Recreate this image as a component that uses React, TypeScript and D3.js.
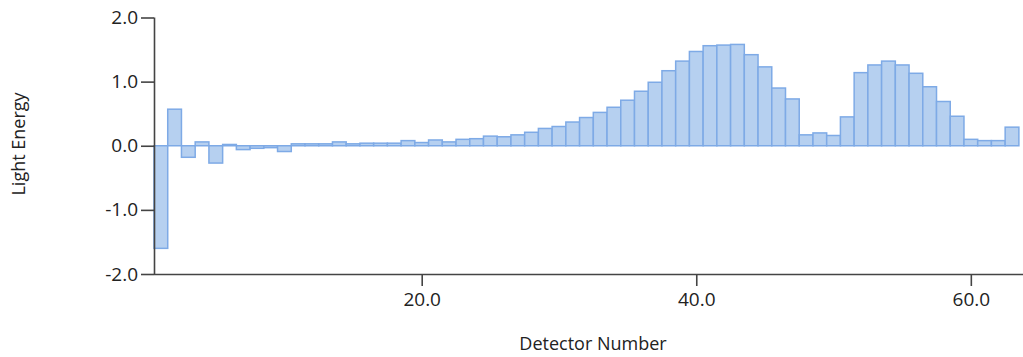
import { useEffect, useRef } from 'react';
import * as d3 from 'd3';

// detector numbers 1..63 and the measured light energy for each
const detectors = d3.range(1, 64);
const energy = [
  -1.6, 0.57, -0.18, 0.06, -0.27, 0.02, -0.06, -0.04, -0.03, -0.09,
  0.03, 0.03, 0.03, 0.06, 0.03, 0.04, 0.04, 0.04, 0.08, 0.05,
  0.09, 0.06, 0.1, 0.11, 0.15, 0.14, 0.17, 0.21, 0.27, 0.3,
  0.37, 0.44, 0.52, 0.6, 0.71, 0.85, 0.99, 1.17, 1.32, 1.47,
  1.56, 1.57, 1.58, 1.42, 1.23, 0.9, 0.73, 0.17, 0.2, 0.16,
  0.45, 1.14, 1.26, 1.32, 1.26, 1.13, 0.92, 0.69, 0.46, 0.1,
  0.08, 0.08, 0.29,
];
const yTicks = [-2, -1, 0, 1, 2];
const xTicks = [20, 40, 60];

const WIDTH = 1023;
const HEIGHT = 357;
const FONT = '"Open Sans", "Noto Sans", sans-serif';

// plain hyphen minus, like the original chart
const fmt = (v: number) => v.toFixed(1);

function drawChart(svgElement: SVGSVGElement) {
  const svg = d3.select(svgElement);
  svg.selectAll('*').remove();

  const left = 154;
  const right = WIDTH;
  const top = 17.5;
  const bottom = 274;

  const x = d3.scaleLinear().domain([0.5, 63.8]).range([left, right]);
  const y = d3.scaleLinear().domain([-2, 2]).range([bottom, top]);
  const step = x(1) - x(0);

  const data = detectors.map((d, i) => ({ d, v: energy[i] }));

  svg
    .append('g')
    .selectAll('rect')
    .data(data)
    .join('rect')
    .attr('x', (p) => x(p.d) - step / 2)
    .attr('width', step)
    .attr('y', (p) => y(Math.max(0, p.v)))
    .attr('height', (p) => Math.abs(y(p.v) - y(0)))
    .attr('fill', '#b6d0f0')
    .attr('stroke', '#7eaae6')
    .attr('stroke-width', 1.5);

  const yAxis = svg
    .append('g')
    .attr('transform', `translate(${left},0)`)
    .call(
      d3
        .axisLeft(y)
        .tickValues(yTicks)
        .tickSize(13)
        .tickPadding(3)
        .tickFormat((v) => fmt(v as number))
    );

  const xAxis = svg
    .append('g')
    .attr('transform', `translate(0,${bottom})`)
    .call(
      d3
        .axisBottom(x)
        .tickValues(xTicks)
        .tickSize(12)
        .tickPadding(7)
        .tickFormat((v) => fmt(v as number))
    );

  for (const axis of [yAxis, xAxis]) {
    axis.select('.domain').attr('stroke', '#444').attr('stroke-width', 1.6);
    axis.selectAll('.tick line').attr('stroke', '#444').attr('stroke-width', 1.6);
    axis
      .selectAll('.tick text')
      .attr('fill', '#222')
      .attr('font-size', 19)
      .attr('font-family', FONT);
  }
  yAxis.select('.domain').attr('d', `M0.5,${top}V${bottom}`);
  xAxis.select('.domain').attr('d', `M${left},0.5H${right}`);

  svg
    .append('text')
    .attr('x', 593)
    .attr('y', 350)
    .attr('text-anchor', 'middle')
    .attr('fill', '#222')
    .attr('font-size', 18)
    .attr('font-family', FONT)
    .text('Detector Number');

  svg
    .append('text')
    .attr('transform', 'rotate(-90)')
    .attr('x', -144)
    .attr('y', 25)
    .attr('text-anchor', 'middle')
    .attr('fill', '#222')
    .attr('font-size', 18)
    .attr('font-family', FONT)
    .text('Light Energy');
}

export default function App() {
  const ref = useRef<SVGSVGElement>(null);

  useEffect(() => {
    if (ref.current) {
      drawChart(ref.current);
    }
  }, []);

  return (
    <div style={{ position: 'absolute', left: 0, top: 0, background: '#fff' }}>
      <svg ref={ref} width={WIDTH} height={HEIGHT} style={{ display: 'block' }} />
    </div>
  );
}
